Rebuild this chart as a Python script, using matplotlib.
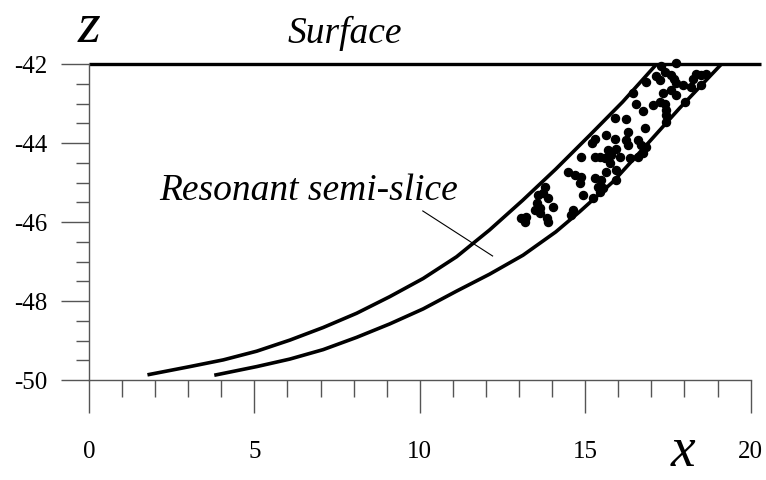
import matplotlib
matplotlib.use("Agg")
import matplotlib.pyplot as plt
from matplotlib.ticker import MultipleLocator

plt.rcParams["axes.unicode_minus"] = False

# upper (left) boundary of the resonant semi-slice
upper_x = [1.82, 3.05, 4.06, 5.07, 6.07, 7.08, 8.09, 9.09, 10.10, 11.11,
           12.11, 13.11, 14.11, 15.14, 16.13, 17.16]
upper_z = [-49.86, -49.66, -49.49, -49.27, -48.99, -48.67, -48.31, -47.89, -47.43, -46.88,
           -46.20, -45.45, -44.66, -43.80, -42.96, -42.0]

# lower (right) boundary
lower_x = [3.84, 5.07, 6.07, 7.08, 8.09, 9.09, 10.10, 11.11, 12.11, 13.12,
           14.11, 14.83, 15.84, 16.85, 17.85, 19.12]
lower_z = [-49.87, -49.66, -49.47, -49.23, -48.92, -48.58, -48.20, -47.75, -47.32, -46.84,
           -46.25, -45.74, -44.98, -44.05, -43.12, -42.0]

# scattered points inside the slice
dots_x = [17.75, 17.30, 17.40, 17.60, 17.67, 17.15, 17.25, 16.85, 17.75, 17.95,
          18.36, 18.26, 18.51, 18.66, 18.51, 18.21, 17.60, 17.75, 17.35, 18.01,
          16.44, 16.55, 16.75, 17.05, 17.25, 17.40, 17.45, 17.45, 17.45, 15.89,
          16.24, 16.80, 16.29, 15.64, 15.89, 16.24, 16.29, 16.60, 16.70, 16.85,
          15.29, 15.19, 15.69, 15.94, 15.79, 16.04, 15.74, 15.59, 15.44, 15.29,
          14.88, 15.64, 15.94, 16.60, 16.75, 14.48, 14.68, 14.88, 14.83, 15.29,
          15.49, 15.39, 15.54, 15.44, 15.94, 14.93, 15.24, 13.78, 13.73, 13.88,
          13.57, 13.53, 13.47, 13.63, 14.03, 13.83, 13.88, 13.22, 13.17, 13.07,
          14.63, 14.58, 16.34, 13.63]
dots_z = [-41.97, -42.05, -42.19, -42.28, -42.39, -42.30, -42.41, -42.45, -42.49, -42.53,
          -42.24, -42.39, -42.28, -42.24, -42.53, -42.57, -42.66, -42.78, -42.74, -42.95,
          -42.74, -43.00, -43.18, -43.04, -42.95, -43.00, -43.16, -43.29, -43.46, -43.37,
          -43.39, -43.63, -43.71, -43.80, -43.91, -43.92, -44.05, -43.92, -44.05, -44.09,
          -43.91, -44.01, -44.18, -44.14, -44.30, -44.35, -44.51, -44.39, -44.35, -44.35,
          -44.35, -44.73, -44.68, -44.35, -44.26, -44.73, -44.81, -44.85, -45.02, -44.89,
          -44.94, -45.11, -45.15, -45.23, -44.94, -45.32, -45.40, -45.11, -45.27, -45.40,
          -45.32, -45.53, -45.70, -45.78, -45.61, -45.91, -45.99, -45.87, -45.99, -45.91,
          -45.70, -45.82, -44.39, -45.65]

surface_x = [0, 20.3]
surface_z = [-42, -42]

xticks = [0, 5, 10, 15, 20]
yticks = [-42, -44, -46, -48, -50]

serif = "Liberation Serif"
axis_grey = "#555555"

fig = plt.figure(figsize=(7.66, 4.8), dpi=100)
ax = fig.add_axes([0.1162, 0.2083, 0.881, 0.6583])

ax.plot(surface_x, surface_z, color="black", lw=2.4, clip_on=False, solid_capstyle="butt")
ax.plot(upper_x, upper_z, color="black", lw=2.6, solid_joinstyle="round")
ax.plot(lower_x, lower_z, color="black", lw=2.6, solid_joinstyle="round")
ax.plot(dots_x, dots_z, "o", color="black", ms=5.8, clip_on=False)

# leader line from the label to the slice
ax.plot([10.09, 12.2], [-45.72, -46.86], color="black", lw=0.8)
ax.text(6.65, -45.44, "Resonant semi-slice", family=serif, style="italic",
        fontsize=27, ha="center", va="baseline")

ax.set_xlim(0, 20.4)
ax.set_ylim(-50, -42)

for s in ["top", "right"]:
    ax.spines[s].set_visible(False)
ax.spines["left"].set_bounds(-50, -42)
ax.spines["bottom"].set_bounds(0, 20)
for s in ["left", "bottom"]:
    ax.spines[s].set_color(axis_grey)
    ax.spines[s].set_linewidth(1.0)

ax.set_xticks(xticks)
ax.set_yticks(yticks)
ax.xaxis.set_minor_locator(MultipleLocator(1))
ax.yaxis.set_minor_locator(MultipleLocator(0.5))
ax.tick_params(axis="x", which="major", direction="out", length=24, width=1.0,
               color=axis_grey, pad=20, labelsize=18)
ax.tick_params(axis="x", which="minor", direction="out", length=12, width=1.0, color=axis_grey)
ax.tick_params(axis="y", which="major", direction="out", length=20, width=1.0,
               color=axis_grey, pad=10, labelsize=18)
ax.tick_params(axis="y", which="minor", direction="out", length=9.5, width=1.0, color=axis_grey)
for lab in ax.get_xticklabels() + ax.get_yticklabels():
    lab.set_family(serif)

fig.text(89 / 766, 1 - 42 / 480, "z", family=serif, style="italic", fontsize=42,
         ha="center", va="baseline")
fig.text(345 / 766, 1 - 43 / 480, "Surface", family=serif, style="italic", fontsize=27,
         ha="center", va="baseline")
fig.text(683 / 766, 2 / 480, "x", family=serif, style="italic", fontsize=40,
         ha="center", va="bottom")

fig.savefig("out.png", dpi=100)
